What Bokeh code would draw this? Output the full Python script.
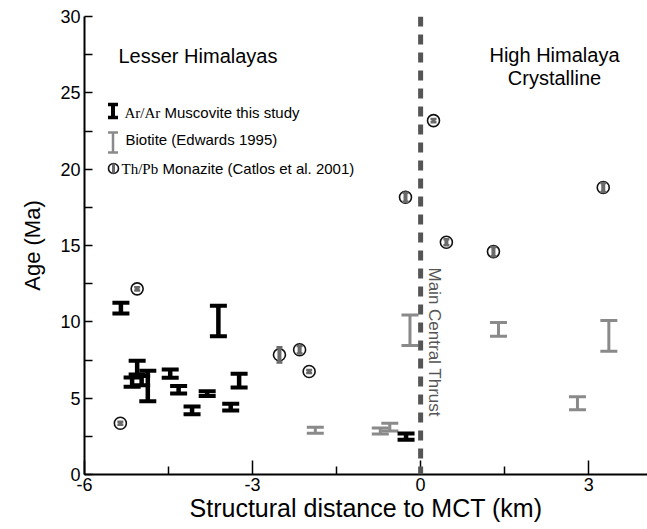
import math
from bokeh.plotting import figure
from bokeh.models import ColumnDataSource, FixedTicker, Label, Span
from bokeh.embed import file_html
from bokeh.resources import INLINE

# ---------------- data ----------------
# Ar/Ar muscovite, this study
mus_x = [-5.35, -3.61, -5.06, -5.15, -4.98, -4.87, -4.47, -4.32, -4.08, -3.81, -3.24, -3.39, -0.26]
mus_y = [10.9, 10.05, 7.0, 6.05, 6.15, 5.8, 6.6, 5.55, 4.2, 5.3, 6.15, 4.42, 2.48]
mus_err = [0.35, 1.0, 0.45, 0.3, 0.3, 1.0, 0.27, 0.25, 0.25, 0.15, 0.45, 0.22, 0.2]

# Biotite (Edwards 1995)
bio_x = [-1.88, -0.72, -0.55, -0.19, 1.39, 2.8, 3.36]
bio_y = [2.9, 2.85, 3.1, 9.45, 9.5, 4.67, 9.08]
bio_err = [0.2, 0.2, 0.25, 1.0, 0.45, 0.43, 1.0]

# Th/Pb monazite (Catlos et al. 2001)
mon_x = [-5.36, -5.06, -2.52, -2.16, -1.99, -0.27, 0.23, 0.46, 1.3, 3.26]
mon_y = [3.36, 12.16, 7.84, 8.17, 6.75, 18.16, 23.18, 15.21, 14.6, 18.8]
mon_err = [0.1, 0.1, 0.5, 0.25, 0.1, 0.3, 0.1, 0.2, 0.3, 0.3]

x_ticks = [-6, -3, 0, 3]
x_tick_labels = ["-6", "-3", "0", "3"]
x_minor = [-4.5, -1.5, 1.5]
y_ticks = [0, 5, 10, 15, 20, 25, 30]
y_minor = [2.5, 7.5, 12.5, 17.5, 22.5, 27.5]

# ---------------- layout ----------------
W, H = 647, 529
L, R, T, B = 84, 0, 16, 55
X0, X1 = -6.0, 4.05
Y0, Y1 = 0.0, 30.0
SANS = "Liberation Sans"
SERIF = "Liberation Serif"
BLACK = "#000000"
GRAY = "#8a8a8a"
MGRAY = "#6a6a6a"
DASH = "#555555"

p = figure(width=W, height=H, x_range=(X0, X1), y_range=(Y0, Y1),
           output_backend="svg", toolbar_location=None,
           min_border_left=L, min_border_right=R, min_border_top=T, min_border_bottom=B)
p.outline_line_color = None
p.grid.visible = False
p.background_fill_color = "white"
p.border_fill_color = "white"


def sx(px):
    return X0 + (px - L) / (W - L - R) * (X1 - X0)


def sy(py):
    return Y1 - (py - T) / (H - T - B) * (Y1 - Y0)


def errbars(xs, ys, es, color, stem_w, cap_w, cap_t):
    src = ColumnDataSource(dict(x=list(xs),
                                lo=[y - e for y, e in zip(ys, es)],
                                hi=[y + e for y, e in zip(ys, es)]))
    p.segment(x0="x", y0="lo", x1="x", y1="hi", line_width=stem_w,
              line_color=color, line_cap="butt", source=src)
    for key in ("lo", "hi"):
        p.rect(x="x", y=key, width=cap_w, height=cap_t, width_units="screen",
               height_units="screen", fill_color=color, line_color=None, source=src)


def monazite(xs, ys, es, size, cap_w, stem_w):
    src = ColumnDataSource(dict(x=list(xs), y=list(ys)))
    p.scatter(x="x", y="y", source=src, marker="circle", size=size,
              fill_color="white", line_color="#111111", line_width=1.6)
    errbars(xs, ys, es, MGRAY, stem_w, cap_w, 2.5)


# main central thrust
p.add_layout(Span(location=0, dimension="height", line_color=DASH,
                  line_width=5, line_dash="10 8"))

# data marks
errbars(bio_x, bio_y, bio_err, GRAY, 3, 17, 3)
errbars(mus_x, mus_y, mus_err, BLACK, 4.5, 17, 4)
monazite(mon_x, mon_y, mon_err, 12, 6, 4)

# ---------------- axes ----------------
p.xaxis.ticker = FixedTicker(ticks=x_ticks, minor_ticks=x_minor)
p.xaxis.major_label_overrides = {t: s for t, s in zip(x_ticks, x_tick_labels)}
p.yaxis.ticker = FixedTicker(ticks=y_ticks, minor_ticks=y_minor)
for ax in (p.xaxis, p.yaxis):
    ax.axis_line_width = 2
    ax.axis_line_color = BLACK
    ax.major_tick_line_color = BLACK
    ax.minor_tick_line_color = BLACK
    ax.major_tick_line_width = 1.5
    ax.minor_tick_line_width = 1.5
    ax.major_tick_out = 0
    ax.minor_tick_out = 0
    ax.major_label_text_font = SANS
    ax.major_label_text_font_size = "18px"
    ax.major_label_text_color = BLACK
    ax.axis_label_text_font = SANS
    ax.axis_label_text_font_style = "normal"
    ax.axis_label_text_color = BLACK

p.xaxis.axis_label_text_font_size = "25px"
p.yaxis.axis_label_text_font_size = "22px"
p.xaxis.major_tick_in = 14
p.xaxis.minor_tick_in = 8
p.yaxis.major_tick_in = 8
p.yaxis.minor_tick_in = 8
p.xaxis.major_label_standoff = 3
p.yaxis.major_label_standoff = 4
p.xaxis.axis_label = "Structural distance to MCT (km)"
p.yaxis.axis_label = "Age (Ma)"
p.xaxis.axis_label_standoff = 0
p.yaxis.axis_label_standoff = 12


# ---------------- annotations ----------------
def lab(text, px, py, size, font=SANS, color=BLACK, align="left",
        baseline="middle", angle=0.0):
    p.add_layout(Label(x=sx(px), y=sy(py), text=text, text_font=font,
                       text_font_size=f"{size}px", text_color=color,
                       text_align=align, text_baseline=baseline, angle=angle))


lab("Lesser Himalayas", 118, 55, 20)
lab("High Himalaya", 554, 54, 20, align="center")
lab("Crystalline", 554, 77, 20, align="center")
lab("Main Central Thrust", 434, 267, 17, color=DASH, angle=-math.pi / 2)

# legend
leg_x = 112.5
errbars([sx(leg_x)], [sy(110.5)], [(117 - 104) / 2 / (H - T - B) * 30], BLACK, 4, 10, 3.5)
lab("Ar/Ar", 124, 112, 15, font=SERIF)
lab("Muscovite this study", 164, 112, 15)

errbars([sx(leg_x)], [sy(142)], [(152 - 132) / 2 / (H - T - B) * 30], GRAY, 2.5, 10, 2.5)
lab("Biotite (Edwards 1995)", 125, 139, 15)

monazite([sx(113)], [sy(168)], [0.25], 10, 3, 3)
lab("Th/Pb", 121, 168, 15, font=SERIF)
lab("Monazite (Catlos et al. 2001)", 162, 168, 15)

open("out.html", "w").write(file_html(p, INLINE))
